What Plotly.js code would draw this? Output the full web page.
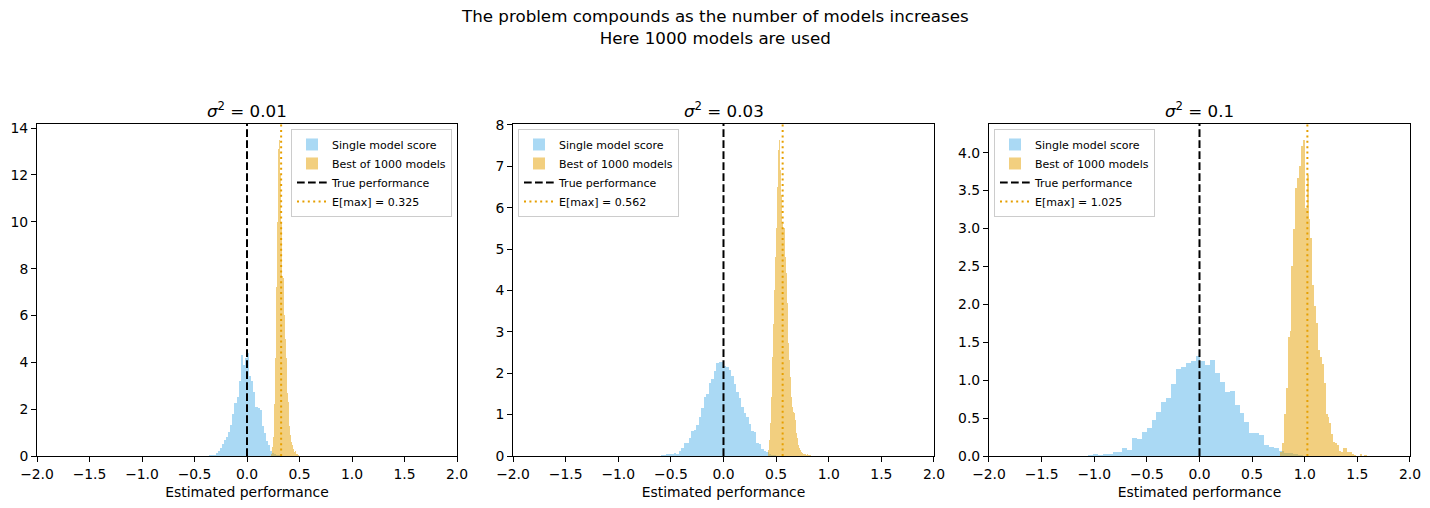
<!DOCTYPE html>
<html><head><meta charset="utf-8">
<script src="https://cdn.plot.ly/plotly-3.0.1.min.js"></script>
<style>html,body{margin:0;padding:0;background:#fff}#chart{width:1430px;height:508px}</style>
</head><body><div id="chart"></div>
<script>
// ---- data ----
const nModels = 1000;
const variances = ['0.01', '0.03', '0.1'];
const expectedMax = [0.325, 0.562, 1.025];
const truePerformance = 0;
const xTickVals = [-2, -1.5, -1, -0.5, 0, 0.5, 1, 1.5, 2];

// single model score histograms (density): first bin left edge, bin width, heights
const singleStart = [-0.36, -0.5922, -1.0585];
const singleWidth = [0.02, 0.02375, 0.04642];
const single1 = [0.03,0.04,0.05,0.11,0.21,0.33,0.5,0.68,0.83,1.04,1.32,1.8,2.25,2.53,3.2,4.3,3.9,4.2,4.4,3.4,3.2,2.75,2.1,2.05,1.95,1.3,1.0,0.65,0.47,0.2,0.12,0.08,0.05,0.03];
const single2 = [0.02,0.02,0.04,0.04,0.06,0.07,0.05,0.12,0.2,0.31,0.31,0.43,0.6,0.63,0.75,0.95,1.17,1.43,1.51,1.76,1.86,2.05,2.24,2.26,2.26,2.18,2.16,2.08,1.94,1.73,1.55,1.39,1.19,1.05,0.95,0.77,0.6,0.57,0.31,0.29,0.18,0.12,0.09,0.05,0.03,0.02];
const single3 = [0.013,0.026,0.013,0.026,0.026,0.053,0.053,0.106,0.079,0.238,0.224,0.317,0.37,0.475,0.581,0.713,0.766,0.95,1.149,1.175,1.228,1.254,1.32,1.254,1.201,1.267,1.096,0.977,0.845,0.858,0.673,0.568,0.449,0.304,0.304,0.282,0.145,0.119,0.106,0.066,0.04,0.035,0.03,0.01];

// best of 1000 models histograms (density)
const bestStart = [0.2286, 0.42, 0.7658];
const bestWidth = [0.009524, 0.01, 0.01804];
const best1 = [0.1,0.4,0.8,2.2,4.2,7.2,10.0,13.1,13.5,12.0,10.0,7.7,7.6,6.0,5.0,4.2,2.7,2.3,1.3,0.9,0.6,0.45,0.3,0.15,0.2,0.1,0.1,0.05];
const best2 = [0.14,0.39,0.79,1.43,2.4,3.2,4.0,4.8,5.5,6.5,7.4,7.64,6.9,6.3,5.6,5.5,4.8,4.41,3.69,2.72,2.32,1.92,1.43,1.19,1.07,1.03,0.87,0.55,0.43,0.27,0.19,0.14,0.1,0.08,0.06,0.05,0.03,0.04,0.03,0.02,0.02];
const best3 = [0.057,0.167,0.554,0.893,1.575,1.65,2.5,3.0,3.53,3.67,3.82,4.09,4.17,3.27,3.71,3.12,2.87,2.26,1.98,1.75,1.4,1.3,1.21,0.96,0.56,0.51,0.43,0.29,0.19,0.167,0.145,0.07,0.057,0.11,0.11,0.057,0.048,0.048,0.026,0.009,0,0,0.026,0,0.009,0.013];

// ---- build ----
const singles = [single1, single2, single3];
const bests = [best1, best2, best3];
const FONT = 'DejaVu Sans, Verdana, sans-serif';
const BLUE = 'rgba(86,180,233,0.5)';
const ORANGE = 'rgba(230,159,0,0.5)';
const ORANGE_LINE = '#E69F00';

function centers(start, w, n) { return Array.from({length: n}, (_, i) => start + (i + 0.5) * w); }

const yTop = [];
const traces = [];
for (let i = 0; i < 3; i++) {
  const sfx = i === 0 ? '' : String(i + 1);
  const lg = 'legend' + sfx;
  const peak = Math.max(...singles[i], ...bests[i]);
  yTop.push(peak * 1.05);
  traces.push({
    type: 'bar', name: 'Single model score', legend: lg,
    x: centers(singleStart[i], singleWidth[i], singles[i].length), y: singles[i],
    width: singleWidth[i], marker: {color: BLUE, line: {width: 0}},
    xaxis: 'x' + sfx, yaxis: 'y' + sfx, hoverinfo: 'skip'
  });
  traces.push({
    type: 'bar', name: 'Best of ' + nModels + ' models', legend: lg,
    x: centers(bestStart[i], bestWidth[i], bests[i].length), y: bests[i],
    width: bestWidth[i], marker: {color: ORANGE, line: {width: 0}},
    xaxis: 'x' + sfx, yaxis: 'y' + sfx, hoverinfo: 'skip'
  });
  traces.push({
    type: 'scatter', mode: 'lines', name: 'True performance', legend: lg,
    x: [truePerformance, truePerformance], y: [0, yTop[i]],
    line: {color: 'black', width: 2, dash: '7.7px,3.3px'},
    xaxis: 'x' + sfx, yaxis: 'y' + sfx, hoverinfo: 'skip'
  });
  traces.push({
    type: 'scatter', mode: 'lines', name: 'E[max] = ' + expectedMax[i].toFixed(3), legend: lg,
    x: [expectedMax[i], expectedMax[i]], y: [0, yTop[i]],
    line: {color: ORANGE_LINE, width: 2, dash: '2px,3.4px'},
    xaxis: 'x' + sfx, yaxis: 'y' + sfx, hoverinfo: 'skip'
  });
}

const domains = [[0, 0.30590], [0.34669, 0.65331], [0.69337, 1]];
const yDtick = [2, 1, 0.5];
const yFmt = ['d', 'd', '.1f'];
const legendX = [0.30226, 0.35033, 0.69701];
const legendAnchor = ['right', 'left', 'left'];

const layout = {
  width: 1430, height: 508,
  margin: {l: 37, r: 20, t: 124, b: 52},
  paper_bgcolor: 'white', plot_bgcolor: 'white',
  barmode: 'overlay', bargap: 0,
  font: {family: FONT, size: 13.9, color: 'black'},
  annotations: [{
    text: 'The problem compounds as the number of models increases<br>Here ' + nModels + ' models are used',
    xref: 'paper', yref: 'paper', x: 0.4938, y: 1.362, xanchor: 'center', yanchor: 'top',
    showarrow: false, font: {family: FONT, size: 16.7, color: 'black'}
  }]
};

for (let i = 0; i < 3; i++) {
  const sfx = i === 0 ? '' : String(i + 1);
  layout['xaxis' + sfx] = {
    domain: domains[i], anchor: 'y' + sfx, range: [-2, 2],
    tickmode: 'array', tickvals: xTickVals, tickformat: '.1f',
    showline: true, mirror: true, linecolor: 'black', linewidth: 1,
    ticks: 'outside', ticklen: 5, tickwidth: 1, tickcolor: 'black',
    showgrid: false, zeroline: false, automargin: false,
    tickfont: {family: FONT, size: 13.9},
    title: {text: 'Estimated performance', standoff: 6, font: {family: FONT, size: 13.9}}
  };
  layout['yaxis' + sfx] = {
    domain: [0, 1], anchor: 'x' + sfx, range: [0, yTop[i]],
    dtick: yDtick[i], tick0: 0, tickformat: yFmt[i],
    showline: true, mirror: true, linecolor: 'black', linewidth: 1,
    ticks: 'outside', ticklen: 5, tickwidth: 1, tickcolor: 'black',
    showgrid: false, zeroline: false, automargin: false,
    tickfont: {family: FONT, size: 13.9}
  };
  layout['legend' + sfx] = {
    x: legendX[i], xanchor: legendAnchor[i], y: 0.985, yanchor: 'top',
    xref: 'paper', yref: 'paper',
    bgcolor: 'rgba(255,255,255,0.8)', bordercolor: '#cccccc', borderwidth: 1,
    font: {family: FONT, size: 11, color: 'black'}, tracegroupgap: 0, itemwidth: 30
  };
  const mid = (domains[i][0] + domains[i][1]) / 2;
  layout.annotations.push({
    text: '<i>σ</i><sup>2</sup> = ' + variances[i],
    xref: 'paper', yref: 'paper', x: mid, y: 1.004, xanchor: 'center', yanchor: 'bottom',
    showarrow: false, font: {family: FONT, size: 16.7, color: 'black'}
  });
}

Plotly.newPlot('chart', traces, layout, {displayModeBar: false, staticPlot: true});
</script>
</body></html>
